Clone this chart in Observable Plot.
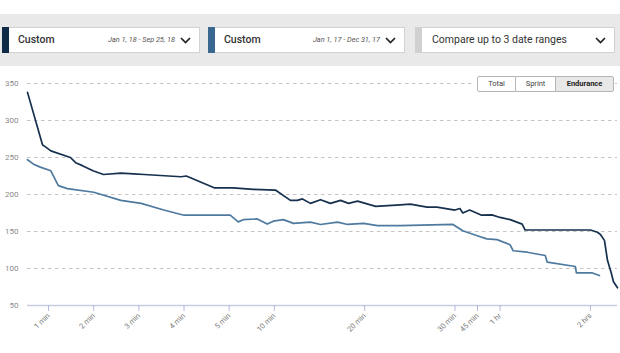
<!DOCTYPE html>
<html><head><meta charset="utf-8">
<script src="https://cdn.jsdelivr.net/npm/d3@7"></script>
<script src="https://cdn.jsdelivr.net/npm/@observablehq/plot@0.6"></script>
<style>
body{margin:0;background:#fff;font-family:Roboto,"Open Sans",sans-serif;}
#wrap{position:relative;width:620px;height:353px;overflow:hidden}
#band{position:absolute;left:0;top:14px;width:620px;height:52px;background:#e9e9e9}
.dd{position:absolute;top:13px;height:26px;background:#fff;border:1px solid #d2d2d2;box-sizing:border-box}
.strip{position:absolute;left:-1px;top:-1px;bottom:-1px;width:7px}
.lab{position:absolute;left:15px;top:0;line-height:24px;font-size:10.5px;font-weight:500;color:#333}
.date{position:absolute;right:24px;top:0;line-height:24px;font-size:7.3px;font-style:italic;color:#555}
.chev{position:absolute;right:8px;top:9px}
#chart{position:absolute;left:0;top:70px}
#btns{position:absolute;left:473px;top:76px;background:#fff;padding:0 0 0 5px;display:flex}
.b{height:16px;line-height:14px;border:1px solid #b5b5b5;font-size:7.5px;color:#444;text-align:center;box-sizing:border-box;margin-left:-1px;background:#fff}
</style></head>
<body>
<div id="wrap">
  <div id="band">
    <div class="dd" style="left:2px;width:198px"><div class="strip" style="background:#0e2a45"></div><div class="lab">Custom</div><div class="date">Jan 1, 18 - Sep 25, 18</div><svg class="chev" width="11" height="7"><polyline points="1,1 5.5,5.5 10,1" fill="none" stroke="#222" stroke-width="1.7"/></svg></div>
    <div class="dd" style="left:208px;width:197px"><div class="strip" style="background:#3b6890"></div><div class="lab">Custom</div><div class="date">Jan 1, 17 - Dec 31, 17</div><svg class="chev" width="11" height="7"><polyline points="1,1 5.5,5.5 10,1" fill="none" stroke="#222" stroke-width="1.7"/></svg></div>
    <div class="dd" style="left:415px;width:200px"><div class="strip" style="background:#d0d0d0"></div><div class="lab" style="font-weight:400;left:16px">Compare up to 3 date ranges</div><svg class="chev" width="11" height="7"><polyline points="1,1 5.5,5.5 10,1" fill="none" stroke="#222" stroke-width="1.7"/></svg></div>
  </div>
  <div id="chart"></div>
  <div id="btns">
    <div class="b" style="width:39px;border-radius:2px 0 0 2px">Total</div>
    <div class="b" style="width:41px">Sprint</div>
    <div class="b" style="width:59px;background:#e8e8e8;font-weight:700;color:#222;border-radius:0 2px 2px 0">Endurance</div>
  </div>
</div>
<script>
// Durations (seconds) and power values
const sec2018 = [32,52,55,63,89,96,105,119,133,156,173,187,236,243,280,327,460,607,707,753,787,840,907,973,1040,1093,1153,1273,1437,1503,1615,1681,1800,1996,2113,2387,2864,3273,3600,4000,4480,4600,5320,7200,7480,7600,7760,7880,8040,8120,8280];
const watts2018 = [338,267,265,259,250,243,239,232,227,229,228,227,224,225,209,209,207,206,192,192,194,188,193,188,192,188,191,184,186,187,183,183,179,181,175,179,172,172.5,169,166,160,152,152,152,149,146,138,111,93,82,74];
const sec2017 = [32,40,49,63,73,85,120,156,183,213,240,307,360,393,487,553,593,660,727,840,907,1020,1087,1193,1285,1437,1787,2113,2661,3068,3477,4000,4120,4680,5400,5480,6600,6640,7280,7560];
const watts2017 = [247,241,237,232,212,208,203,192,188,179,172,172,163,166,167,160,164,166,161,162.6,159.5,162.6,159.5,161,158,158,159.5,151,144.6,140,139,132,124,122,117.6,108.5,102.7,94,94,90.5];
const tickSeconds = [60,120,180,240,300,600,1200,1800,2700,3600,7200];
const tickLabels = ["1 min","2 min","3 min","4 min","5 min","10 min","20 min","30 min","45 min","1 hr","2 hrs"];
const yTicks = [50,100,150,200,250,300,350];
const gridTicks = [100,150,200,250,300,350];

// the duration axis is piecewise: equal steps between labelled durations
const toSlot = d3.scaleLinear()
  .domain([0,60,120,180,240,300,600,1200,1800,2700,3600,7200])
  .range([0,1,2,3,4,5,6,8,10,10.5,11,13]);

const rows = [
  ...sec2018.map((s,i)=>({series:"2018", slot:toSlot(s), w:watts2018[i]})),
  ...sec2017.map((s,i)=>({series:"2017", slot:toSlot(s), w:watts2017[i]}))
];
const allSec = sec2018.concat(sec2017);

const chart = Plot.plot({
  width: 620, height: 283,
  marginLeft: 27, marginRight: 3, marginTop: 13, marginBottom: 48,
  style: {fontFamily: "Roboto, sans-serif", fontSize: "8px", background: "transparent"},
  x: {domain: d3.extent(allSec).map(toSlot)},
  y: {domain: [50, 350]},
  color: {domain: ["2018","2017"], range: ["#16304d","#4f7aa0"]},
  marks: [
    Plot.gridY(gridTicks, {stroke: "#c4c4c4", strokeOpacity: 1, strokeDasharray: "3.5,3.5"}),
    Plot.axisY(yTicks, {tickSize: 0, tickPadding: 9, fill: "#8a8a8a", fontSize: 8, label: null}),
    Plot.ruleY([50], {stroke: "#c9cde3", strokeWidth: 1.5}),
    Plot.axisX(tickSeconds.map(toSlot), {tickFormat: (d,i)=>tickLabels[i], tickRotate: -45, tickSize: 6, tickPadding: 3, stroke: "#b3b8dc", fill: "#7a7a7a", fontSize: 7.5, label: null}),
    Plot.line(rows, {x: "slot", y: "w", z: "series", stroke: "series", strokeWidth: 1.7, curve: "linear"})
  ]
});
document.getElementById("chart").appendChild(chart);
</script>
</body></html>
